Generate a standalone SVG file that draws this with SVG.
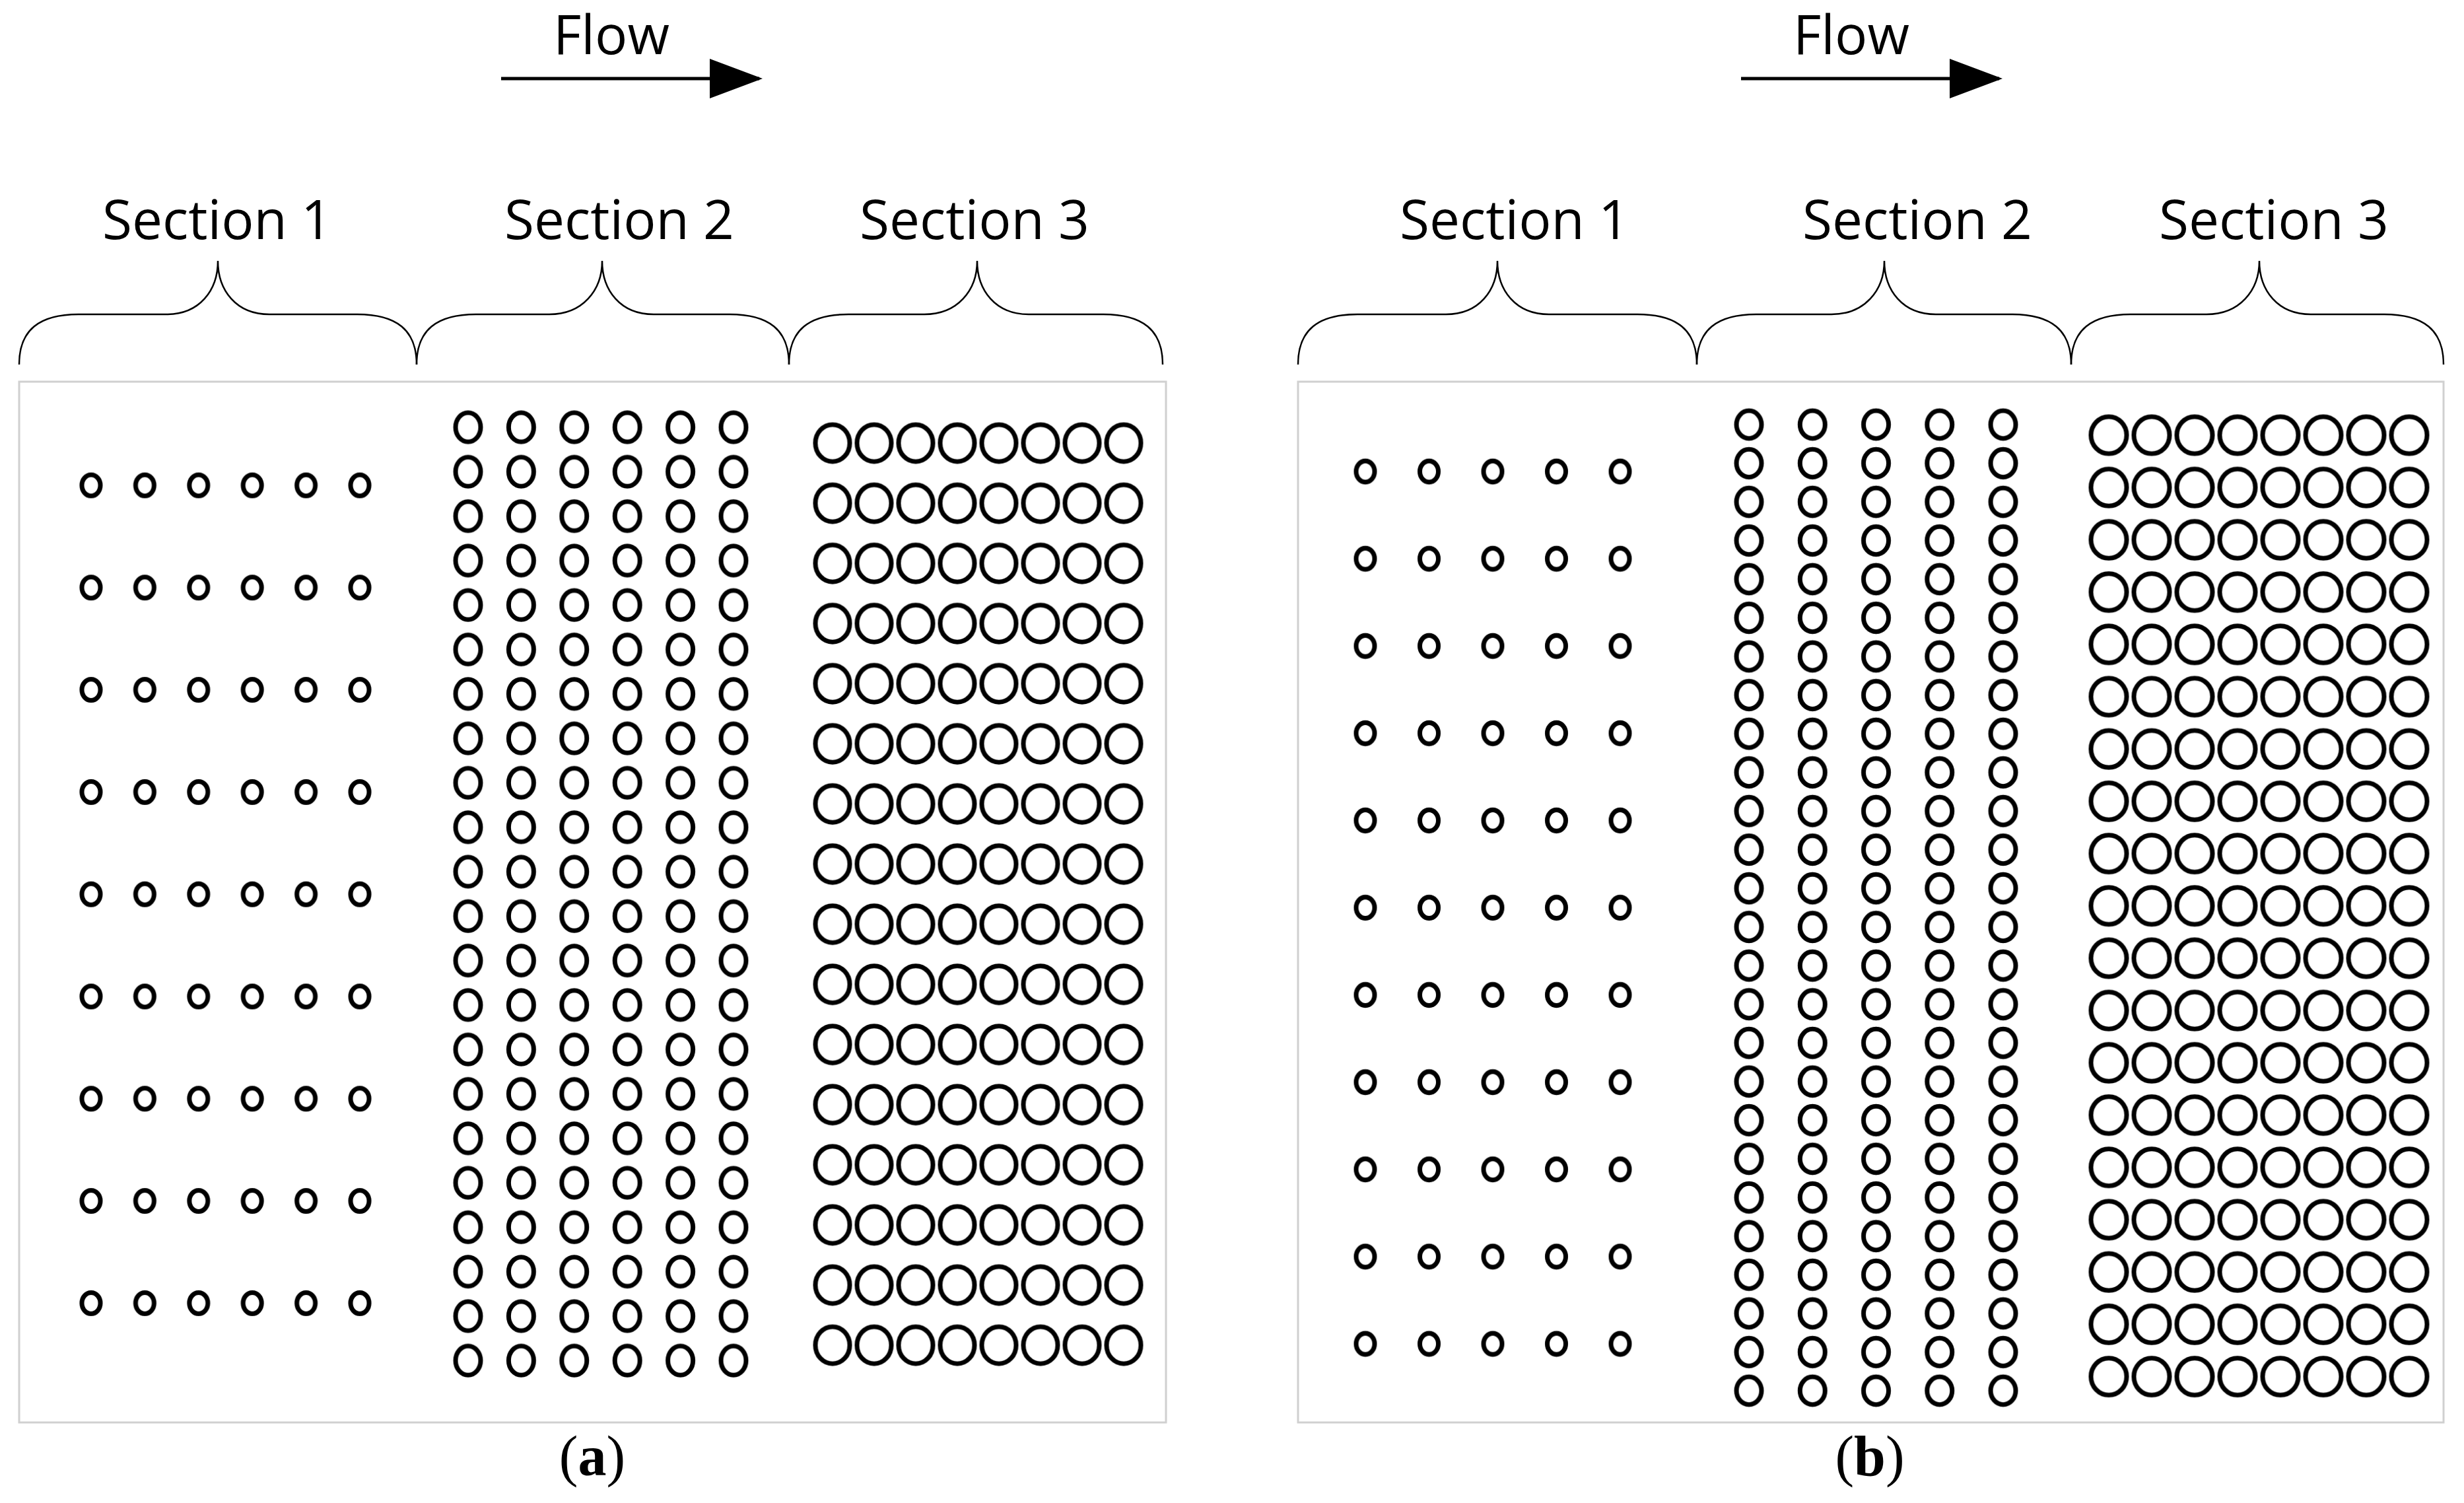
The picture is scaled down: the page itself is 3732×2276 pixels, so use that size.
<svg xmlns="http://www.w3.org/2000/svg" width="3732" height="2276" viewBox="0 0 3732 2276">
<style>
.t{font-family:"Open Sans","Liberation Sans",sans-serif;font-size:82px;fill:#000;text-anchor:middle}
.lb{font-family:"Liberation Serif",serif;font-size:86px;fill:#000;text-anchor:middle}
.br{fill:none;stroke:#000;stroke-width:2.5}
.pn{fill:#fff;stroke:#d0d0d0;stroke-width:3}
.c{fill:none;stroke:#000;stroke-width:7}
.ar{stroke:#000;stroke-width:5;fill:none}
</style>
<defs>
<marker id="ah" markerWidth="16" markerHeight="12" refX="15" refY="6" orient="auto" markerUnits="strokeWidth"><path d="M0,0 L16,6 L0,12 Z" fill="#000"/></marker>
<pattern id="a1" patternUnits="userSpaceOnUse" x="97.3" y="657.6" width="81.4" height="154.8"><ellipse class="c" cx="40.7" cy="77.4" rx="14" ry="16"/></pattern>
<pattern id="a2" patternUnits="userSpaceOnUse" x="668.8" y="613.35" width="80.4" height="67.3"><ellipse class="c" cx="40.2" cy="33.65" rx="19" ry="22"/></pattern>
<pattern id="a3" patternUnits="userSpaceOnUse" x="1229.5" y="625.5" width="63" height="91.07"><ellipse class="c" cx="31.5" cy="45.5" rx="26" ry="28"/></pattern>
<pattern id="b1" patternUnits="userSpaceOnUse" x="2019.75" y="648" width="96.5" height="132.1"><ellipse class="c" cx="48.25" cy="66.05" rx="14" ry="16"/></pattern>
<pattern id="b2" patternUnits="userSpaceOnUse" x="2600.9" y="613.7" width="96.25" height="58.52"><ellipse class="c" cx="48.12" cy="29.26" rx="19" ry="21"/></pattern>
<pattern id="b3" patternUnits="userSpaceOnUse" x="3161.5" y="619.4" width="65" height="79.2"><ellipse class="c" cx="32.5" cy="39.6" rx="27" ry="28"/></pattern>
</defs>
<rect width="3732" height="2276" fill="#fff"/>
<g id="panel-a">
<rect class="pn" x="29" y="578" width="1737" height="1576"/>
<rect x="97.3" y="657.6" width="488.4" height="1393.2" fill="url(#a1)"/>
<rect x="668.8" y="613.35" width="482.4" height="1480.6" fill="url(#a2)"/>
<rect x="1229.5" y="625.5" width="504" height="1457.2" fill="url(#a3)"/>
<text class="t" x="926" y="82">Flow</text>
<line class="ar" x1="759" y1="119" x2="1150" y2="119" marker-end="url(#ah)"/>
<text class="t" x="329" y="362">Section 1</text>
<text class="t" x="938" y="362">Section 2</text>
<text class="t" x="1476" y="362">Section 3</text>
<path class="br" d="M29,552 C29,500 59,476 119,476 L252,476 C302,476 330,440 330,395 C330,440 358,476 408,476 L541,476 C601,476 631,500 631,552"/>
<path class="br" d="M631,552 C631,500 661,476 721,476 L832,476 C882,476 912,440 912,395 C912,440 940,476 990,476 L1105,476 C1165,476 1195,500 1195,552"/>
<path class="br" d="M1195,552 C1195,500 1225,476 1285,476 L1400,476 C1450,476 1480,440 1480,395 C1480,440 1508,476 1558,476 L1671,476 C1731,476 1761,500 1761,552"/>
<text class="lb" x="897" y="2234">(<tspan font-weight="bold">a</tspan>)</text>
</g>
<g id="panel-b">
<rect class="pn" x="1966" y="578" width="1735" height="1576"/>
<rect x="2019.75" y="648" width="482.5" height="1453.1" fill="url(#b1)"/>
<rect x="2600.9" y="613.7" width="481.25" height="1521.5" fill="url(#b2)"/>
<rect x="3161.5" y="619.4" width="520" height="1504.8" fill="url(#b3)"/>
<text class="t" x="2804" y="82">Flow</text>
<line class="ar" x1="2637" y1="119" x2="3028" y2="119" marker-end="url(#ah)"/>
<text class="t" x="2294" y="362">Section 1</text>
<text class="t" x="2904" y="362">Section 2</text>
<text class="t" x="3444" y="362">Section 3</text>
<path class="br" d="M1966,552 C1966,500 1996,476 2056,476 L2190,476 C2240,476 2268,440 2268,395 C2268,440 2296,476 2346,476 L2480,476 C2540,476 2570,500 2570,552"/>
<path class="br" d="M2570,552 C2570,500 2600,476 2660,476 L2774,476 C2824,476 2854,440 2854,395 C2854,440 2882,476 2932,476 L3047,476 C3107,476 3137,500 3137,552"/>
<path class="br" d="M3137,552 C3137,500 3167,476 3227,476 L3342,476 C3392,476 3422,440 3422,395 C3422,440 3450,476 3500,476 L3611,476 C3671,476 3701,500 3701,552"/>
<text class="lb" x="2832" y="2234">(<tspan font-weight="bold">b</tspan>)</text>
</g>
<g id="connectors"/>
</svg>
